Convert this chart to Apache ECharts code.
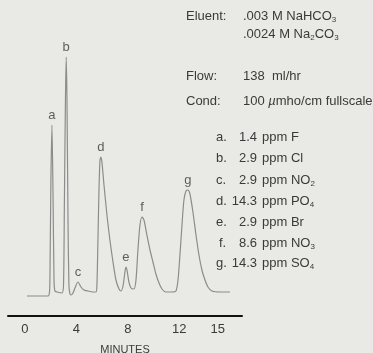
<!DOCTYPE html>
<html>
<head>
<meta charset="utf-8">
<script src="https://cdn.jsdelivr.net/npm/echarts@6/dist/echarts.min.js"></script>
<style>
  html, body { margin: 0; padding: 0; background: #e9e9e6; }
  #chart { width: 373px; height: 353px; }
</style>
</head>
<body>
<div id="chart"></div>
<script>
// detector trace: retention time (min) and signal (% of full scale)
const minutes = [
  0.16, 1.79, 1.91, 1.95, 2.02, 2.10, 2.18, 2.26, 2.33, 2.49, 2.88,
  3.00, 3.07, 3.15, 3.21, 3.27, 3.35, 3.42, 3.50, 3.58, 3.74,
  3.89, 4.12, 4.36, 4.59, 4.90, 5.29, 5.53,
  5.60, 5.68, 5.76, 5.84, 5.91, 5.99, 6.15, 6.38, 6.61, 6.85, 7.08, 7.32, 7.47,
  7.63, 7.78, 7.86, 7.94, 8.09, 8.25, 8.48,
  8.64, 8.79, 8.95, 9.11, 9.26, 9.49, 9.73, 9.96, 10.19, 10.43, 10.66, 10.97, 11.44, 11.75,
  11.91, 12.06, 12.22, 12.37, 12.53, 12.68, 12.84, 13.07, 13.31, 13.54, 13.77, 14.01, 14.24, 14.55, 15.18, 15.95
]
const signal = [
  0, 0, 1.6, 10.4, 46.4, 68.4, 42.4, 6.4, 2.0, 1.6, 1.2,
  4.4, 38.4, 78.4, 95.6, 78.4, 30.4, 4.4, 0.8, 0.4, 1.2,
  3.2, 5.6, 3.6, 2.4, 2.0, 1.6, 1.6,
  4.4, 22.4, 42.4, 54.4, 55.6, 53.6, 44.4, 32.4, 22.4, 13.6, 6.4, 2.8, 2.0,
  4.0, 9.6, 11.6, 10.4, 5.6, 3.2, 2.8,
  6.4, 18.4, 28.4, 31.6, 30.4, 24.4, 18.4, 13.6, 8.8, 5.2, 2.8, 1.6, 1.6, 2.0,
  6.4, 16.4, 28.4, 38.4, 42.0, 42.4, 40.8, 33.6, 24.4, 16.4, 10.4, 6.4, 3.6, 2.0, 1.6, 1.6
]

const peakNames = ['a', 'b', 'c', 'd', 'e', 'f', 'g']
const peakMinutes = [2.10, 3.21, 4.12, 5.91, 7.86, 9.11, 12.68]
const peakHeights = [68.4, 95.6, 5.6, 55.6, 11.6, 31.6, 42.4]

const tickValues = [0, 4, 8, 12, 15]

const conditionNames = ['Eluent:', '', 'Flow:', 'Cond:']
const conditionValues = [
  '.003 M NaHCO{s|3}',
  '.0024 M Na{s|2}CO{s|3}',
  '138  ml/hr',
  '100 {mu|\u00b5}mho/cm fullscale'
]

const concentrations = ['1.4', '2.9', '2.9', '14.3', '2.9', '8.6', '14.3']
const ions = ['F', 'Cl', 'NO{s|2}', 'PO{s|4}', 'Br', 'NO{s|3}', 'SO{s|4}']

const ink = '#3a3a3a'
const font = '"Liberation Sans", Arial, sans-serif'

const richText = {
  s: { fontSize: 8, lineHeight: 8, verticalAlign: 'bottom', fill: ink },
  mu: { fontSize: 13, fontStyle: 'italic', fill: ink }
}

function textItem(x, y, text, align) {
  return {
    type: 'text',
    x: x,
    y: y,
    style: {
      text: text,
      fill: ink,
      font: '13px ' + font,
      lineHeight: 15,
      align: align || 'left',
      verticalAlign: 'middle',
      rich: richText
    }
  }
}

const graphics = []
const condRows = [16, 34, 76, 101]
conditionNames.forEach((name, i) => {
  if (name) graphics.push(textItem(186, condRows[i], name))
  graphics.push(textItem(243, condRows[i], conditionValues[i]))
})

const listRows = [137, 158, 180, 201, 222, 243, 263]
peakNames.forEach((name, i) => {
  graphics.push(textItem(name === 'f' ? 219 : 216, listRows[i], name + '.'))
  graphics.push(textItem(257, listRows[i], concentrations[i], 'right'))
  graphics.push(textItem(262, listRows[i], 'ppm ' + ions[i]))
})

const chart = echarts.init(document.getElementById('chart'))

chart.setOption({
  animation: false,
  backgroundColor: '#e9e9e6',
  textStyle: { fontFamily: font },
  grid: {
    left: 8,
    right: 131,
    top: 46,
    bottom: 37,
    containLabel: false,
    outerBoundsMode: 'none'
  },
  xAxis: {
    type: 'value',
    min: -1.32,
    max: 16.89,
    name: 'MINUTES',
    nameLocation: 'middle',
    nameGap: 28,
    nameTextStyle: { color: ink, fontSize: 11, fontFamily: font },
    axisLine: { onZero: false, lineStyle: { color: '#111', width: 2 } },
    axisTick: { show: false },
    splitLine: { show: false },
    axisLabel: {
      customValues: tickValues,
      color: ink,
      fontSize: 13,
      margin: 7,
      fontFamily: font
    }
  },
  yAxis: {
    type: 'value',
    min: -8,
    max: 100,
    show: false,
    splitLine: { show: false }
  },
  graphic: graphics,
  series: [
    {
      type: 'line',
      data: minutes.map((m, i) => [m, signal[i]]),
      showSymbol: false,
      smooth: 0.25,
      lineStyle: { color: '#8c8c8c', width: 1.2 },
      silent: true
    },
    {
      type: 'scatter',
      data: peakMinutes.map((m, i) => [m, peakHeights[i], peakNames[i]]),
      symbolSize: 0,
      silent: true,
      label: {
        show: true,
        position: 'top',
        distance: 3,
        formatter: (p) => p.data[2],
        color: ink,
        fontSize: 13,
        fontFamily: font
      }
    }
  ]
})
</script>
</body>
</html>
